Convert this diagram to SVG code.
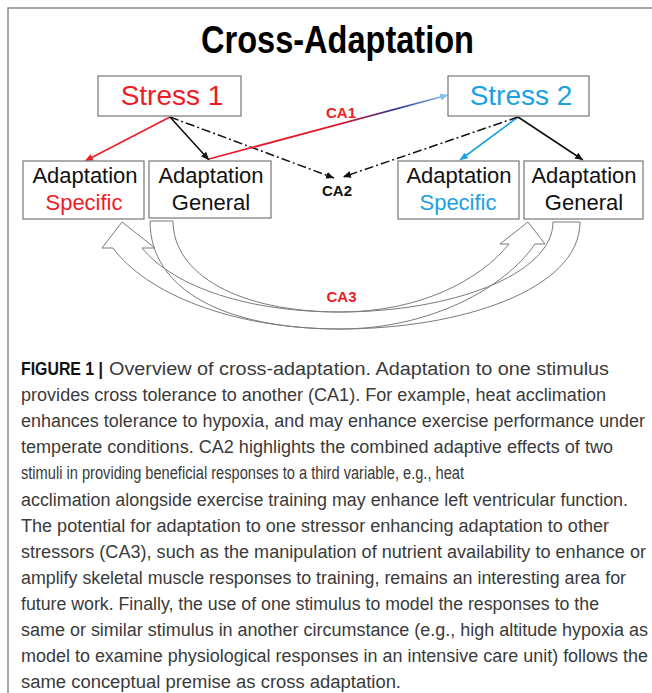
<svg xmlns="http://www.w3.org/2000/svg" width="652" height="693" viewBox="0 0 652 693">
<style>
.box{fill:#fff;stroke:#808080;stroke-width:1.3}
.bt{font-family:"Liberation Sans",Arial,sans-serif;font-size:22px;text-anchor:middle;fill:#111}
.st{font-family:"Liberation Sans",Arial,sans-serif;font-size:28px;text-anchor:middle}
.lab{font-family:"Liberation Sans",Arial,sans-serif;font-size:15px;font-weight:bold;text-anchor:middle}
.cap{font-family:"Liberation Sans",Arial,sans-serif;font-size:18px;fill:#3a3a3a}
.red{fill:#ee1c25}
.blue{fill:#1ba1e2}
.band{fill:none;stroke:#7a7a7a;stroke-width:1}
</style>
<defs>
<marker id="ahR" markerUnits="userSpaceOnUse" markerWidth="9" markerHeight="8" refX="8" refY="3.5" orient="auto"><path d="M0,0 L8,3.5 L0,7 z" fill="#ee1c25"/></marker>
<marker id="ahK" markerUnits="userSpaceOnUse" markerWidth="9" markerHeight="8" refX="8" refY="3.5" orient="auto"><path d="M0,0 L8,3.5 L0,7 z" fill="#111"/></marker>
<marker id="ahB" markerUnits="userSpaceOnUse" markerWidth="9" markerHeight="8" refX="8" refY="3.5" orient="auto"><path d="M0,0 L8,3.5 L0,7 z" fill="#1ba1e2"/></marker>
<marker id="ahL" markerUnits="userSpaceOnUse" markerWidth="9" markerHeight="8" refX="8" refY="3.5" orient="auto"><path d="M0,0 L8,3.5 L0,7 z" fill="#7cc4ec"/></marker>
<linearGradient id="gCA1" gradientUnits="userSpaceOnUse" x1="209" y1="159" x2="448" y2="95">
<stop offset="0" stop-color="#ee1c25"/>
<stop offset="0.55" stop-color="#e0162a"/>
<stop offset="0.78" stop-color="#2b2f8f"/>
<stop offset="1" stop-color="#8ccdf0"/>
</linearGradient>
</defs>
<rect width="652" height="693" fill="#fff"/>
<g id="frame"><path d="M8,693 L8,8 L652,8" fill="none" stroke="#8a8a8a" stroke-width="1.5"/></g>
<text id="title" x="337.5" y="53" font-family="'Liberation Sans',Arial,sans-serif" font-size="38" font-weight="bold" text-anchor="middle" fill="#000" textLength="273" lengthAdjust="spacingAndGlyphs">Cross-Adaptation</text>

<g id="connectors">
<line x1="170" y1="117" x2="85" y2="161" stroke="#ee1c25" stroke-width="1.6" marker-end="url(#ahR)"/>
<line x1="170" y1="117" x2="209" y2="160" stroke="#111" stroke-width="1.6" marker-end="url(#ahK)"/>
<line x1="170" y1="117" x2="334" y2="178" stroke="#111" stroke-width="1.5" stroke-dasharray="9,3,2,3" marker-end="url(#ahK)"/>
<line x1="209" y1="159" x2="448" y2="95" stroke="url(#gCA1)" stroke-width="1.8" marker-end="url(#ahL)"/>
<line x1="518" y1="117" x2="460" y2="160" stroke="#1ba1e2" stroke-width="1.6" marker-end="url(#ahB)"/>
<line x1="518" y1="117" x2="583" y2="160" stroke="#111" stroke-width="1.6" marker-end="url(#ahK)"/>
<line x1="518" y1="117" x2="343" y2="177" stroke="#111" stroke-width="1.5" stroke-dasharray="9,3,2,3" marker-end="url(#ahK)"/>
<path id="ca3-a" class="band" d="M150,221 L173,221 C173,275 240,312 340,312 C420,312 480,280 509,244 L500,244 L528,222 L545,244 L535,244 C505,288 430,329 340,329 C225,329 150,290 150,221 Z"/>
<path id="ca3-b" class="band" d="M580,222 L553,222 C553,275 450,312 340,312 C250,312 175,288 142,248 L155,248 L122,222 L102,248 L113,248 C145,292 230,329 340,329 C460,329 580,290 580,222 Z"/>
<text class="lab red" x="341" y="118">CA1</text>
<text class="lab" x="337" y="196" fill="#111">CA2</text>
<text class="lab red" x="341.5" y="302">CA3</text>
</g>

<g id="stress1">
<rect class="box" x="98" y="76" width="143" height="40"/>
<text class="st red" x="172" y="105">Stress 1</text>
</g>
<g id="stress2">
<rect class="box" x="448" y="76" width="141" height="40"/>
<text class="st blue" x="521" y="105">Stress 2</text>
</g>
<g id="adapt-specific-1">
<rect class="box" x="23" y="161" width="121" height="58"/>
<text class="bt" x="85" y="183">Adaptation</text>
<text class="bt red" x="84" y="210">Specific</text>
</g>
<g id="adapt-general-1">
<rect class="box" x="149" y="161" width="122" height="57"/>
<text class="bt" x="211" y="183">Adaptation</text>
<text class="bt" x="211" y="210">General</text>
</g>
<g id="adapt-specific-2">
<rect class="box" x="398" y="161" width="121" height="58"/>
<text class="bt" x="459" y="183">Adaptation</text>
<text class="bt blue" x="458" y="210">Specific</text>
</g>
<g id="adapt-general-2">
<rect class="box" x="524" y="161" width="119" height="58"/>
<text class="bt" x="584" y="183">Adaptation</text>
<text class="bt" x="584" y="210">General</text>
</g>

<g id="caption">
<text x="21" y="375" font-family="'Liberation Sans',Arial,sans-serif" font-size="18" font-weight="bold" fill="#111" textLength="82" lengthAdjust="spacingAndGlyphs">FIGURE 1 |</text>
<text class="cap" x="109" y="375" textLength="500" lengthAdjust="spacingAndGlyphs">Overview of cross-adaptation. Adaptation to one stimulus</text>
<text class="cap" x="21" y="401.1" textLength="585" lengthAdjust="spacingAndGlyphs">provides cross tolerance to another (CA1). For example, heat acclimation</text>
<text class="cap" x="21" y="427.2" textLength="624" lengthAdjust="spacingAndGlyphs">enhances tolerance to hypoxia, and may enhance exercise performance under</text>
<text class="cap" x="21" y="453.3" textLength="592" lengthAdjust="spacingAndGlyphs">temperate conditions. CA2 highlights the combined adaptive effects of two</text>
<text class="cap" x="21" y="479.4" textLength="443" lengthAdjust="spacingAndGlyphs">stimuli in providing beneficial responses to a third variable, e.g., heat</text>
<text class="cap" x="21" y="505.5" textLength="607" lengthAdjust="spacingAndGlyphs">acclimation alongside exercise training may enhance left ventricular function.</text>
<text class="cap" x="21" y="531.6" textLength="588" lengthAdjust="spacingAndGlyphs">The potential for adaptation to one stressor enhancing adaptation to other</text>
<text class="cap" x="21" y="557.7" textLength="625" lengthAdjust="spacingAndGlyphs">stressors (CA3), such as the manipulation of nutrient availability to enhance or</text>
<text class="cap" x="21" y="583.8" textLength="605" lengthAdjust="spacingAndGlyphs">amplify skeletal muscle responses to training, remains an interesting area for</text>
<text class="cap" x="21" y="609.9" textLength="578" lengthAdjust="spacingAndGlyphs">future work. Finally, the use of one stimulus to model the responses to the</text>
<text class="cap" x="21" y="636" textLength="627" lengthAdjust="spacingAndGlyphs">same or similar stimulus in another circumstance (e.g., high altitude hypoxia as</text>
<text class="cap" x="21" y="662.1" textLength="627" lengthAdjust="spacingAndGlyphs">model to examine physiological responses in an intensive care unit) follows the</text>
<text class="cap" x="21" y="688.2" textLength="380" lengthAdjust="spacingAndGlyphs">same conceptual premise as cross adaptation.</text>
</g>
</svg>
